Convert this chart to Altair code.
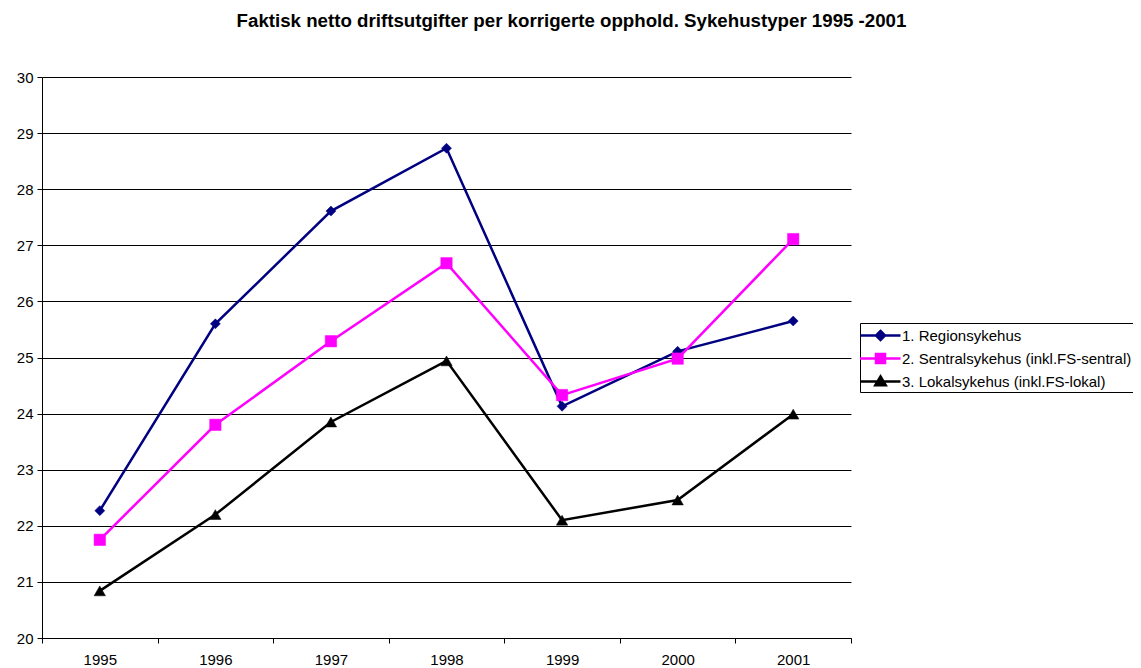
import altair as alt
import pandas as pd

years = ["1995", "1996", "1997", "1998", "1999", "2000", "2001"]
series_names = [
    "1. Regionsykehus",
    "2. Sentralsykehus (inkl.FS-sentral)",
    "3. Lokalsykehus (inkl.FS-lokal)",
]
region = [22.27, 25.60, 27.61, 28.73, 24.13, 25.11, 25.65]
sentral = [21.75, 23.80, 25.29, 26.68, 24.33, 24.98, 27.11]
lokal = [20.84, 22.20, 23.85, 24.94, 22.10, 22.46, 23.99]
colors = ["#000080", "#FF00FF", "#000000"]
marker_shapes = ["diamond", "square", "triangle-up"]
marker_sizes = [100, 130, 130]
legend_paths = [
    "M-2.05,0H2.0M0,-0.45L0.45,0L0,0.45L-0.45,0Z",
    "M-2.05,0H2.0M-0.45,-0.45H0.45V0.45H-0.45Z",
    "M-2.05,0H2.0M0,-0.5L0.52,0.38H-0.52Z",
]

rows = []
for name, vals in zip(series_names, [region, sentral, lokal]):
    for y, v in zip(years, vals):
        rows.append({"year": y, "value": v, "series": name})
df = pd.DataFrame(rows)

FONT = "Liberation Sans"

x_enc = alt.X(
    "year:O",
    scale=alt.Scale(domain=years, paddingInner=0, paddingOuter=0),
    axis=alt.Axis(
        title=None, labelAngle=0, tickBand="extent", tickSize=5,
        labelPadding=9, labelFontSize=15, labelFont=FONT, labelColor="#000",
        domainColor="#000", tickColor="#000", grid=False,
    ),
)
y_enc = alt.Y(
    "value:Q",
    scale=alt.Scale(domain=[20, 30], nice=False, zero=False),
    axis=alt.Axis(
        title=None, values=list(range(20, 31)), tickSize=5, labelPadding=4,
        labelFontSize=15, labelFont=FONT, labelColor="#000",
        domainColor="#000", tickColor="#000", grid=True, gridColor="#000",
        gridWidth=1,
    ),
)
stroke_scale = alt.Scale(domain=series_names, range=colors)

base = alt.Chart(df)

lines = base.mark_line(strokeWidth=2.5).encode(
    x=x_enc, y=y_enc,
    stroke=alt.Stroke("series:N", scale=stroke_scale),
)

point_layers = []
for name, shp, sz in zip(series_names, marker_shapes, marker_sizes):
    point_layers.append(
        base.transform_filter(alt.datum.series == name)
        .mark_point(filled=True, shape=shp, size=sz, opacity=1, strokeWidth=0.5)
        .encode(
            x=x_enc, y=y_enc,
            fill=alt.Fill("series:N", scale=stroke_scale),
            stroke=alt.Stroke("series:N", scale=stroke_scale),
        )
    )

legend_layer = (
    base.transform_filter("false")
    .mark_point(filled=True, opacity=1)
    .encode(
        fill=alt.Fill("series:N", scale=stroke_scale, legend=alt.Legend(title=None)),
        stroke=alt.Stroke("series:N", scale=stroke_scale, legend=alt.Legend(title=None)),
        shape=alt.Shape(
            "series:N",
            scale=alt.Scale(domain=series_names, range=legend_paths),
            legend=alt.Legend(title=None),
        ),
    )
)

chart = (
    alt.layer(lines, *point_layers, legend_layer)
    .properties(
        width=809,
        height=561,
        autosize=alt.AutoSizeParams(type="none"),
        padding={"left": 34, "top": 69, "right": 282, "bottom": 30},
        background="white",
        title=alt.TitleParams(
            "Faktisk netto driftsutgifter per korrigerte opphold. Sykehustyper 1995 -2001",
            font=FONT, fontSize=18.7, fontWeight="bold", color="#000",
            anchor="middle", dx=125, offset=39,
        ),
    )
    .configure_view(stroke=None)
    .configure_legend(
        orient="none", legendX=818, legendY=246,
        strokeColor="#000", fillColor="white", padding=1,
        symbolSize=400, symbolStrokeWidth=2.5, symbolOffset=8,
        labelFont=FONT, labelFontSize=15, labelColor="#000", labelOffset=10,
        rowPadding=2, labelLimit=400,
    )
)

chart.save("out.html", embed_options={"renderer": "svg", "actions": False})
